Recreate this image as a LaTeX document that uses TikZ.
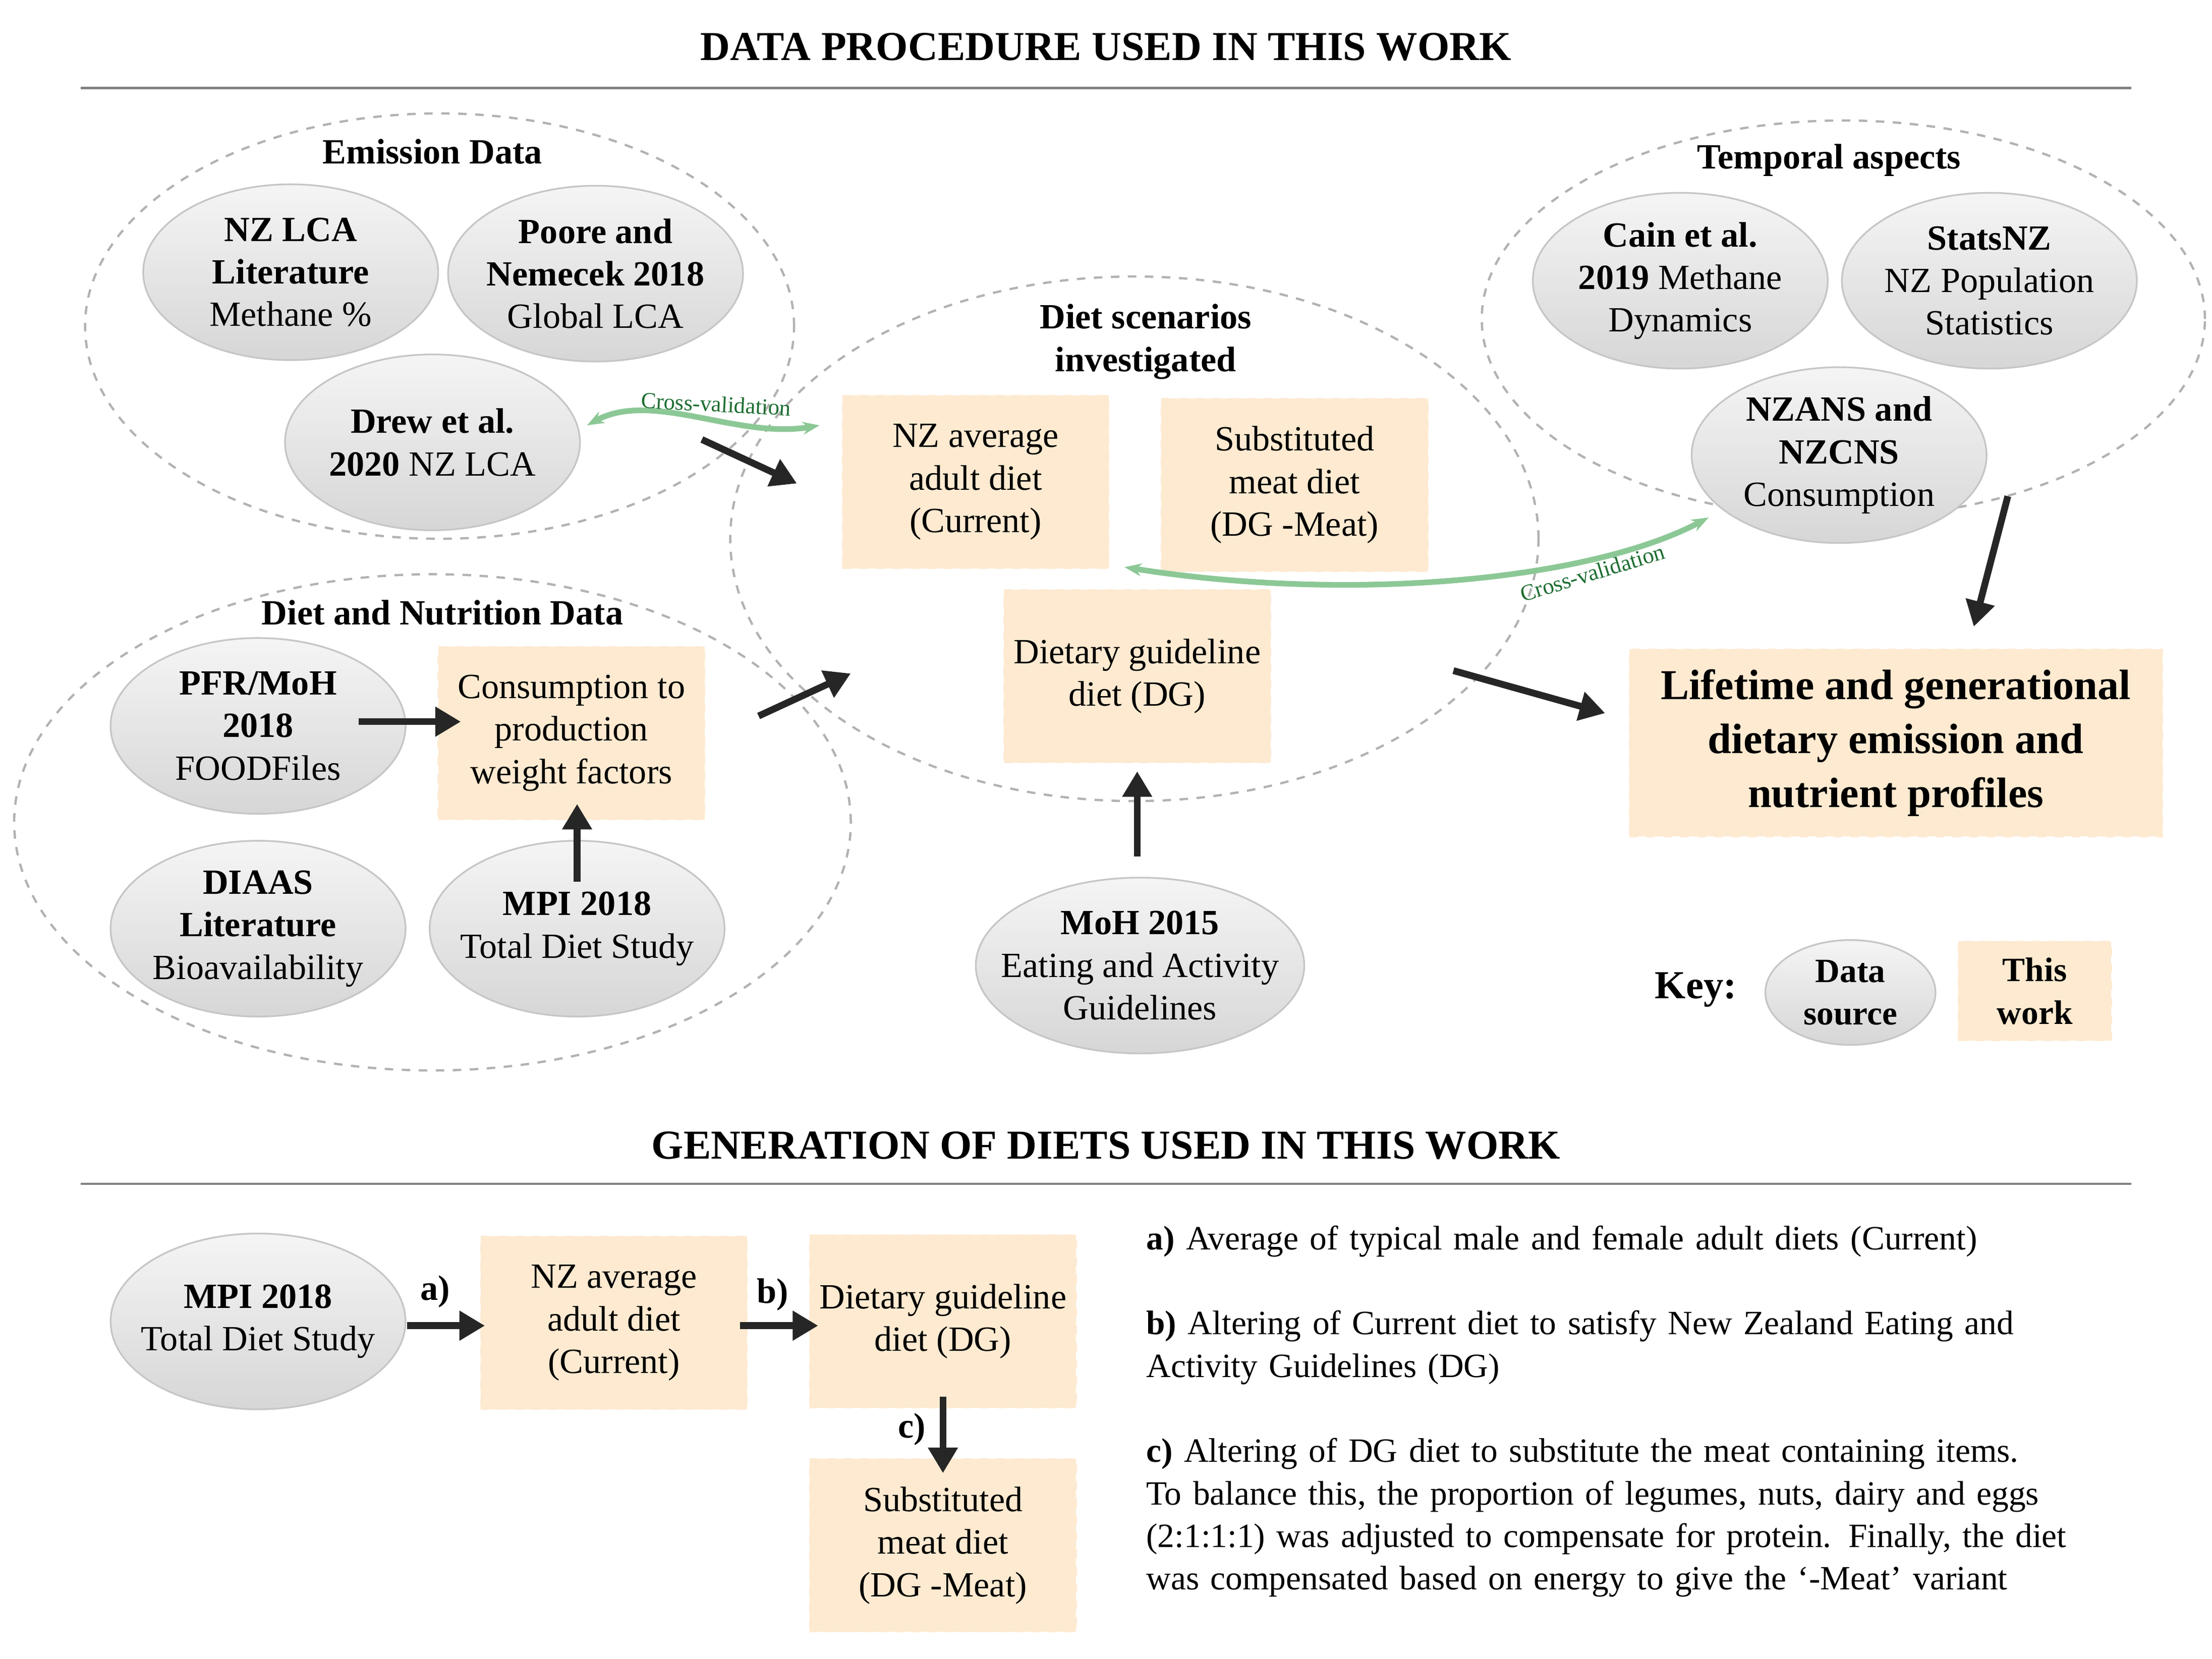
\documentclass[tikz,border=0pt]{standalone}
\usepackage{fontspec}
\setmainfont{Liberation Serif}
\usetikzlibrary{shapes.geometric,arrows.meta}
\definecolor{peach}{RGB}{253,234,208}
\definecolor{cvgreen}{RGB}{140,200,150}
\definecolor{cvtext}{RGB}{30,110,50}
\begin{document}
\begin{tikzpicture}[x=0.5pt,y=-0.5pt,
 txt/.style={font=\fontsize{12.5}{15}\selectfont,align=center},
 gell/.style={ellipse,txt,draw=gray!45,line width=0.6pt,top color=gray!8,bottom color=gray!32,minimum width=104pt,minimum height=62pt,inner sep=-8pt},
 pbox/.style={rectangle,txt,fill=peach,draw=peach!70!orange!40,dashed,line width=0.4pt,minimum width=94pt,minimum height=61pt,inner sep=0pt},
 group/.style={ellipse,draw=gray!60,dashed,line width=0.8pt,inner sep=0pt},
 lab/.style={font=\fontsize{12.5}{15}\selectfont\bfseries,align=center},
 title/.style={font=\fontsize{14.5}{17}\selectfont\bfseries},
 arr/.style={-{Triangle[length=9pt,width=10pt]},line width=2.4pt,black!85},
 cv/.style={{Stealth[length=6pt]}-{Stealth[length=6pt]},line width=2pt,cvgreen},
 cvl/.style={font=\fontsize{8}{9}\selectfont,text=cvtext,inner sep=1pt}]
\useasboundingbox (0,0) rectangle (1560,1170);
% titles
\node[title] (t1) at (780,33) {DATA PROCEDURE USED IN THIS WORK};
\draw[gray,line width=0.8pt] (57,62) -- (1503,62);
\node[title] (t2) at (780,808) {GENERATION OF DIETS USED IN THIS WORK};
\draw[gray,line width=0.8pt] (57,835) -- (1503,835);
% groups
\node[group,minimum width=250pt,minimum height=150pt] (gE) at (310,230) {};
\node[lab] (lE) at (305,107) {Emission Data};
\node[group,minimum width=285pt,minimum height=185pt] (gD) at (800,380) {};
\node[lab] (lD) at (808,241) {Diet scenarios\\investigated};
\node[group,minimum width=255pt,minimum height=140pt] (gT) at (1300,225) {};
\node[lab] (lT) at (1290,113) {Temporal aspects};
\node[group,minimum width=295pt,minimum height=175pt] (gN) at (305,580) {};
\node[lab] (lN) at (312,432) {Diet and Nutrition Data};
% data sources
\node[gell] (nzlca) at (205,192) {\textbf{NZ LCA}\\\textbf{Literature}\\Methane \%};
\node[gell] (poore) at (420,193) {\textbf{Poore and}\\\textbf{Nemecek 2018}\\Global LCA};
\node[gell] (drew) at (305,312) {\textbf{Drew et al.}\\\textbf{2020} NZ LCA};
\node[gell] (cain) at (1185,198) {\textbf{Cain et al.}\\\textbf{2019} Methane\\Dynamics};
\node[gell] (stats) at (1403,198) {\textbf{StatsNZ}\\NZ Population\\Statistics};
\node[gell] (nzans) at (1297,321) {\textbf{NZANS and}\\\textbf{NZCNS}\\Consumption};
\node[gell] (pfr) at (182,512) {\textbf{PFR/MoH}\\\textbf{2018}\\FOODFiles};
\node[gell] (diaas) at (182,655) {\textbf{DIAAS}\\\textbf{Literature}\\Bioavailability};
\node[gell] (mpi) at (407,655) {\textbf{MPI 2018}\\Total Diet Study};
\node[gell] (moh) at (804,681) {\textbf{MoH 2015}\\Eating and Activity\\Guidelines};
% this work
\node[pbox] (cur) at (688,340) {NZ average\\adult diet\\(Current)};
\node[pbox] (sub) at (913,342) {Substituted\\meat diet\\(DG -Meat)};
\node[pbox] (dg) at (802,477) {Dietary guideline\\diet (DG)};
\node[pbox] (cons) at (403,517) {Consumption to\\production\\weight factors};
\node[pbox,minimum width=188pt,minimum height=66pt,font=\fontsize{15}{19}\selectfont\bfseries] (life) at (1337,524) {Lifetime and generational\\dietary emission and\\nutrient profiles};
% key
\node[font=\fontsize{14}{17}\selectfont\bfseries] (key) at (1196,698) {Key:};
\node[gell,minimum width=60pt,minimum height=37pt,inner sep=-4pt,font=\fontsize{12}{15}\selectfont\bfseries] (kds) at (1305,700) {Data\\source};
\node[pbox,minimum width=54pt,minimum height=35pt,font=\fontsize{12}{15}\selectfont\bfseries] (ktw) at (1435,699) {This\\work};
% arrows
\coordinate (a1s) at (495,310); \coordinate (a1e) at (562,341);
\draw[arr] (a1s) -- (a1e);
\coordinate (a2s) at (253,509); \coordinate (a2e) at (325,509);
\draw[arr] (a2s) -- (a2e);
\coordinate (a3s) at (407,622); \coordinate (a3e) at (407,567);
\draw[arr] (a3s) -- (a3e);
\coordinate (a4s) at (535,505); \coordinate (a4e) at (600,475);
\draw[arr] (a4s) -- (a4e);
\coordinate (a5s) at (802,604); \coordinate (a5e) at (802,544);
\draw[arr] (a5s) -- (a5e);
\coordinate (a6s) at (1025,473); \coordinate (a6e) at (1132,503);
\draw[arr] (a6s) -- (a6e);
\coordinate (a7s) at (1416,350); \coordinate (a7e) at (1392,442);
\draw[arr] (a7s) -- (a7e);
% cross validation
\coordinate (cv1s) at (414,300); \coordinate (cv1e) at (578,300);
\draw[cv] (cv1s) .. controls (460,275) and (520,310) .. (cv1e);
\node[cvl,rotate=-3] (cvl1) at (505,285) {Cross-validation};
\coordinate (cv2s) at (793,400); \coordinate (cv2e) at (1205,365);
\draw[cv] (cv2s) .. controls (950,425) and (1120,410) .. (cv2e);
\node[cvl,rotate=17] (cvl2) at (1123,404) {Cross-validation};
% bottom
\node[gell] (bmpi) at (182,932) {\textbf{MPI 2018}\\Total Diet Study};
\node[pbox] (bcur) at (433,933) {NZ average\\adult diet\\(Current)};
\node[pbox] (bdg) at (665,932) {Dietary guideline\\diet (DG)};
\node[pbox] (bsub) at (665,1090) {Substituted\\meat diet\\(DG -Meat)};
\coordinate (b1s) at (287,935); \coordinate (b1e) at (342,935);
\draw[arr] (b1s) -- (b1e);
\node[lab] (la) at (307,911) {a)};
\coordinate (b2s) at (522,935); \coordinate (b2e) at (577,935);
\draw[arr] (b2s) -- (b2e);
\node[lab] (lb) at (545,913) {b)};
\coordinate (b3s) at (665,985); \coordinate (b3e) at (665,1039);
\draw[arr] (b3s) -- (b3e);
\node[lab] (lc) at (643,1008) {c)};
\node[anchor=north west,align=left,font=\fontsize{12}{15}\selectfont,text width=330pt,inner sep=0pt] (desc) at (808,864) {\raggedright
\textbf{a)} Average of typical male and female adult diets (Current)\\[15pt]
\textbf{b)} Altering of Current diet to satisfy New Zealand Eating and Activity Guidelines (DG)\\[15pt]
\textbf{c)} Altering of DG diet to substitute the meat containing items. To balance this, the proportion of legumes, nuts, dairy and eggs (2:1:1:1) was adjusted to compensate for protein. Finally, the diet was compensated based on energy to give the `-Meat' variant};
\end{tikzpicture}
\end{document}
